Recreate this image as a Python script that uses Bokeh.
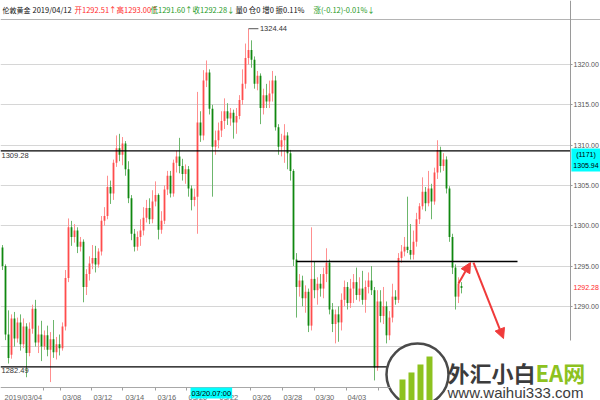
from bokeh.plotting import figure
from bokeh.models import (ColumnDataSource, Range1d, FixedTicker, Label, Arrow,
                          NormalHead, PrintfTickFormatter)
from bokeh.embed import file_html
from bokeh.resources import INLINE

# ---------------- data (London gold, 2019/03/04 - 2019/04/12) ----------------
opens = [1297.3, 1295.0, 1286.5, 1284.0, 1288.5, 1286.0, 1288.0, 1285.3, 1287.5, 1284.2,
         1287.2, 1289.7, 1285.5, 1286.5, 1285.0, 1286.4, 1284.6, 1285.9, 1284.3, 1285.3,
         1284.8, 1287.5, 1293.5, 1299.8, 1298.6, 1299.4, 1297.4, 1298.0, 1292.4, 1294.0,
         1295.3, 1296.0, 1295.2, 1296.8, 1300.6, 1301.2, 1304.8, 1304.0, 1307.8, 1309.6,
         1308.8, 1310.2, 1307.0, 1303.4, 1299.0, 1297.4, 1298.6, 1299.4, 1301.0, 1302.2,
         1300.8, 1303.0, 1303.8, 1299.5, 1300.6, 1304.5, 1306.2, 1304.0, 1307.8, 1308.6,
         1307.4, 1306.4, 1307.0, 1304.6, 1303.2, 1303.6, 1312.8, 1311.2, 1318.0, 1319.0,
         1314.5, 1309.8, 1310.6, 1311.8, 1313.0, 1314.2, 1313.3, 1314.0, 1312.8, 1313.6,
         1315.6, 1317.6, 1320.8, 1321.8, 1320.6, 1317.6, 1318.6, 1314.6, 1316.2, 1315.4,
         1316.4, 1318.0, 1312.2, 1309.8, 1310.6, 1311.2, 1309.0, 1306.8, 1295.8, 1292.4,
         1293.2, 1291.0, 1291.8, 1287.6, 1293.4, 1292.0, 1292.8, 1292.2, 1294.0, 1295.4,
         1289.6, 1287.8, 1289.0, 1288.0, 1290.8, 1292.4, 1290.4, 1292.2, 1293.0, 1291.4,
         1292.2, 1290.8, 1292.4, 1293.2, 1292.0, 1282.4, 1290.6, 1288.8, 1290.0, 1286.4,
         1288.6, 1291.2, 1290.8, 1296.0, 1296.8, 1297.4, 1297.0, 1296.4, 1298.0, 1300.8,
         1302.4, 1304.2, 1302.8, 1304.6, 1303.0, 1306.6, 1309.4, 1307.4, 1308.2, 1304.6,
         1298.6, 1294.8, 1291.2, 1292.51]
highs = [1297.6, 1295.2, 1289.5, 1289.0, 1289.3, 1288.6, 1289.0, 1288.5, 1287.9, 1288.0,
         1290.2, 1290.8, 1287.6, 1288.2, 1287.0, 1287.6, 1286.8, 1288.3, 1286.2, 1286.5,
         1288.0, 1294.5, 1300.9, 1300.6, 1300.2, 1299.8, 1298.6, 1298.3, 1294.6, 1296.2,
         1297.6, 1297.5, 1297.2, 1301.2, 1302.3, 1306.2, 1305.6, 1308.2, 1311.2, 1311.4,
         1311.0, 1310.5, 1308.0, 1303.8, 1299.6, 1299.3, 1300.8, 1302.3, 1303.2, 1303.4,
         1304.4, 1305.5, 1304.0, 1301.8, 1305.0, 1306.8, 1306.8, 1308.2, 1309.3, 1310.9,
         1308.3, 1307.6, 1307.4, 1305.0, 1304.6, 1316.6, 1314.2, 1319.3, 1320.5, 1319.4,
         1315.0, 1311.8, 1312.8, 1314.2, 1315.8, 1315.2, 1314.6, 1314.4, 1314.6, 1316.2,
         1319.4, 1322.6, 1324.44, 1323.0, 1321.0, 1319.2, 1318.9, 1317.0, 1317.6, 1318.0,
         1319.2, 1318.6, 1312.6, 1311.4, 1312.6, 1311.6, 1309.4, 1307.0, 1296.6, 1294.0,
         1293.8, 1292.6, 1292.2, 1299.8, 1295.6, 1293.6, 1294.0, 1294.8, 1297.2, 1295.8,
         1290.4, 1289.6, 1290.0, 1291.6, 1293.2, 1293.0, 1293.4, 1294.0, 1294.8, 1293.6,
         1294.4, 1293.2, 1294.2, 1295.0, 1292.4, 1292.0, 1292.0, 1292.4, 1290.6, 1289.4,
         1292.8, 1292.0, 1296.6, 1297.6, 1298.6, 1303.6, 1300.2, 1299.4, 1301.6, 1302.8,
         1306.0, 1304.8, 1306.8, 1305.2, 1307.2, 1310.6, 1309.8, 1309.0, 1308.6, 1304.9,
         1299.0, 1295.2, 1293.6, 1293.00]
lows = [1294.5, 1285.8, 1282.9, 1283.5, 1285.0, 1285.5, 1284.5, 1284.8, 1281.2, 1283.8,
        1286.6, 1285.0, 1284.2, 1283.2, 1284.6, 1283.8, 1280.6, 1283.6, 1283.4, 1283.9,
        1284.5, 1287.0, 1293.0, 1297.5, 1297.9, 1296.6, 1296.8, 1290.5, 1291.4, 1293.2,
        1294.6, 1294.2, 1294.8, 1296.3, 1300.0, 1300.8, 1302.7, 1303.2, 1307.3, 1308.0,
        1307.5, 1306.2, 1302.8, 1298.2, 1296.8, 1296.9, 1297.5, 1298.8, 1300.4, 1300.2,
        1300.3, 1302.4, 1298.3, 1299.0, 1300.2, 1303.8, 1303.5, 1303.6, 1306.6, 1306.5,
        1305.6, 1305.2, 1303.6, 1301.9, 1302.4, 1299.0, 1310.4, 1310.6, 1317.2, 1313.8,
        1303.6, 1308.8, 1309.6, 1311.0, 1312.0, 1312.5, 1312.4, 1310.8, 1311.4, 1313.2,
        1315.0, 1317.0, 1320.0, 1319.6, 1317.0, 1316.8, 1312.6, 1313.8, 1314.6, 1314.6,
        1315.4, 1311.8, 1308.8, 1308.6, 1307.8, 1307.0, 1305.6, 1295.0, 1288.6, 1291.2,
        1290.0, 1289.2, 1286.8, 1287.0, 1291.0, 1290.2, 1291.2, 1291.0, 1293.0, 1289.0,
        1286.8, 1285.4, 1285.6, 1287.0, 1290.0, 1289.6, 1289.8, 1290.4, 1290.8, 1290.6,
        1290.2, 1289.2, 1291.6, 1291.4, 1280.8, 1282.0, 1288.0, 1287.8, 1285.4, 1285.8,
        1288.0, 1290.2, 1290.4, 1295.4, 1296.2, 1296.6, 1295.8, 1295.8, 1297.4, 1300.2,
        1302.0, 1301.8, 1302.4, 1300.8, 1302.6, 1305.8, 1306.6, 1306.8, 1304.0, 1298.0,
        1294.0, 1289.6, 1290.4, 1291.60]
closes = [1295.0, 1286.5, 1283.6, 1288.5, 1286.0, 1288.0, 1285.3, 1287.5, 1284.2, 1287.2,
          1289.7, 1285.5, 1286.5, 1285.0, 1286.4, 1284.6, 1285.9, 1284.3, 1285.3, 1284.8,
          1287.5, 1293.5, 1299.8, 1298.6, 1299.4, 1297.4, 1298.0, 1292.4, 1294.0, 1295.3,
          1296.0, 1295.2, 1296.8, 1300.6, 1301.2, 1304.8, 1304.0, 1307.8, 1309.6, 1308.8,
          1310.2, 1307.0, 1303.4, 1299.0, 1297.4, 1298.6, 1299.4, 1301.0, 1302.2, 1300.8,
          1303.0, 1303.8, 1299.5, 1300.6, 1304.5, 1306.2, 1304.0, 1307.8, 1308.6, 1307.4,
          1306.4, 1307.0, 1304.6, 1303.2, 1303.6, 1312.8, 1311.2, 1318.0, 1319.0, 1314.5,
          1309.8, 1310.6, 1311.8, 1313.0, 1314.2, 1313.3, 1314.0, 1312.8, 1313.6, 1315.6,
          1317.6, 1320.8, 1321.8, 1320.6, 1317.6, 1318.6, 1314.6, 1316.2, 1315.4, 1316.4,
          1318.0, 1312.2, 1309.8, 1310.6, 1311.2, 1309.0, 1306.8, 1295.8, 1292.4, 1293.2,
          1291.0, 1291.8, 1287.6, 1293.4, 1292.0, 1292.8, 1292.2, 1294.0, 1295.4, 1289.6,
          1287.8, 1289.0, 1288.0, 1290.8, 1292.4, 1290.4, 1292.2, 1293.0, 1291.4, 1292.2,
          1290.8, 1292.4, 1293.2, 1292.0, 1282.4, 1290.6, 1288.8, 1290.0, 1286.4, 1288.6,
          1291.2, 1290.8, 1296.0, 1296.8, 1297.4, 1297.0, 1296.4, 1298.0, 1300.8, 1302.4,
          1304.2, 1302.8, 1304.6, 1303.0, 1306.6, 1309.4, 1307.4, 1308.2, 1304.6, 1298.6,
          1294.8, 1291.2, 1292.8, 1292.28]

# x-axis date labels (bar positions) and small tick marks
date_tick_pos = [6.93, 23.13, 33.47, 44.13, 54.8, 65.13, 75.47, 86.47, 96.8, 107.47, 118.13]
date_tick_labels = ["2019/03/04", "03/08", "03/12", "03/14", "03/16", "03/20", "03/22",
                    "03/26", "03/28", "03/30", "04/03"]
date_minor_pos = [13.67, 19.33, 29.67, 40.0, 51.0, 61.33, 72.0, 82.67, 93.33, 104.0, 114.67, 125.33]
price_ticks = [1290, 1295, 1300, 1305, 1310, 1315, 1320]
grid_levels = [1285, 1290, 1295, 1300, 1305, 1310, 1315, 1320]

# horizontal support / resistance lines: level, start bar, end bar
hline_level = [1309.28, 1295.56, 1282.49]
hline_start = [-0.67, 98.0, -0.67]
hline_end = [189.33, 171.67, 189.33]

high_mark_bar, high_mark_price = 82.0, 1324.44
last_close = 1292.28
cross_bar, cross_price, cross_count = 62.67, 1305.94, 1171

# red hand-drawn arrows (bar, price)
arrow_x0 = [152.0, 157.0]
arrow_y0 = [1292.83, 1295.43]
arrow_x1 = [156.0, 167.0]
arrow_y1 = [1295.43, 1286.0]

# watermark geometry (bar, price)
wm_circle = (138.33, 1281.54)
wm_bar_left = [132.33, 135.33, 138.33, 141.33]
wm_bar_right = [134.33, 137.33, 140.33, 143.33]
wm_bar_top = [1280.92, 1281.79, 1282.78, 1283.77]


# ---------------- geometry helpers (pixel -> data, for annotations only) ----------------
def bx(xp):
    return (xp - 2) / 3.0


def py(yp):
    return 1320.0 - (yp - 64) / 8.06


X0, X1 = bx(0), bx(600)
Y0, Y1 = py(400), py(0)
AXIS_X = bx(570)
AXIS_Y = py(387)
SCALE_FONT = "7px"

p = figure(width=600, height=400, output_backend="svg", toolbar_location=None,
           x_range=Range1d(X0, X1), y_range=Range1d(Y0, Y1),
           y_axis_location="right",
           min_border=0, min_border_left=0, min_border_right=0, min_border_top=0,
           min_border_bottom=0,
           background_fill_color="white", border_fill_color="white")
p.styles = {"position": "absolute", "left": "0px", "top": "0px"}
p.outline_line_color = None

# axes (drawn at fixed positions inside the canvas)
p.yaxis.fixed_location = AXIS_X
p.yaxis.bounds = (py(340), Y1)
p.yaxis.ticker = FixedTicker(ticks=price_ticks)
p.yaxis.formatter = PrintfTickFormatter(format="%.2f")
p.yaxis.axis_line_color = "#9a9a9a"
p.yaxis.major_tick_line_color = "#9a9a9a"
p.yaxis.major_tick_out = 2
p.yaxis.major_tick_in = 0
p.yaxis.minor_tick_line_color = None
p.yaxis.major_label_standoff = 1
p.yaxis.major_label_text_font = "Liberation Sans"
p.yaxis.major_label_text_font_size = SCALE_FONT
p.yaxis.major_label_text_color = "#555555"

p.xaxis.fixed_location = AXIS_Y
p.xaxis.bounds = (X0, bx(390))
p.xaxis.ticker = FixedTicker(ticks=date_tick_pos, minor_ticks=date_minor_pos)
p.xaxis.major_label_overrides = {k: v for k, v in zip(date_tick_pos, date_tick_labels)}
p.xaxis.axis_line_color = "#a8a8a8"
p.xaxis.major_tick_line_color = None
p.xaxis.major_tick_out = 0
p.xaxis.major_tick_in = 0
p.xaxis.minor_tick_line_color = "#a0a0a0"
p.xaxis.minor_tick_out = 3
p.xaxis.minor_tick_in = 0
p.xaxis.major_label_standoff = 2
p.xaxis.major_label_text_font = "Liberation Sans"
p.xaxis.major_label_text_font_size = "7.5px"
p.xaxis.major_label_text_color = "#666666"

p.xgrid.visible = False
p.ygrid.ticker = FixedTicker(ticks=grid_levels)
p.ygrid.grid_line_color = "#d6d6d6"
p.ygrid.grid_line_width = 1

# blank strip for the price scale (grid stops at the axis)
p.quad(left=[AXIS_X], right=[X1], top=[Y1], bottom=[Y0], fill_color="white", line_color=None)

# header separator line
p.segment(x0=[X0], y0=[py(19)], x1=[X1], y1=[py(19)], line_color="#b4b4b4", line_width=1)

# candles
n = len(closes)
up = [c >= o for o, c in zip(opens, closes)]
src = ColumnDataSource(dict(
    x=list(range(n)), o=opens, h=highs, l=lows, c=closes,
    top=[max(o, c) for o, c in zip(opens, closes)],
    bot=[min(o, c) for o, c in zip(opens, closes)],
    body=["#ff4d4d" if u else "#0f880f" for u in up],
    wick=["#ff8f8f" if u else "#6cb66c" for u in up],
))
p.segment(x0="x", y0="l", x1="x", y1="h", source=src, line_color="wick", line_width=1)
p.vbar(x="x", top="top", bottom="bot", width=0.6, source=src,
       fill_color="body", line_color=None)

# horizontal lines
p.segment(x0=hline_start, y0=hline_level, x1=hline_end, y1=hline_level,
          line_color="black", line_width=1.4)

# high marker
p.segment(x0=[high_mark_bar], y0=[high_mark_price], x1=[high_mark_bar + 3.3],
          y1=[high_mark_price], line_color="#555555", line_width=1)

# watermark
p.quad(left=[wm_circle[0]], right=[X1], top=[py(340)], bottom=[Y0],
       fill_color="white", line_color=None)
p.scatter(x=[wm_circle[0]], y=[wm_circle[1]], size=62, marker="circle",
          fill_color="white", line_color="#4a4a4a", line_width=2.5)
p.quad(left=wm_bar_left, right=wm_bar_right, top=wm_bar_top, bottom=[Y0] * 4,
       fill_color="#8dc21f", line_color=None)

# ---------------- text annotations ----------------
HFONT = "Noto Sans CJK SC"
header = [
    (2, "伦敦黄金", "#111111", "7px"),
    (32, "2019/04/12", "#111111", "7.5px"),
    (74, "开1292.51↑高1293.00↑", "#ff2a2a", "7.5px"),
    (150, "低1291.60↑收1292.28↓", "#1f9a1f", "7.5px"),
    (235, "量0  仓0  增0  振0.11%", "#111111", "7.5px"),
    (313, "涨(-0.12)-0.01%↓", "#1f9a1f", "7.5px"),
]
for xp, t, col, fs in header:
    p.add_layout(Label(x=bx(xp), y=py(9), text=t, text_font=HFONT, text_font_size=fs,
                       text_color=col, text_baseline="middle", text_align="left"))

p.add_layout(Label(x=bx(1), y=hline_level[0], y_offset=-2, text="1309.28",
                   text_font="Liberation Sans", text_font_size="7.5px", text_color="#333333",
                   text_baseline="top"))
p.add_layout(Label(x=bx(1), y=hline_level[2], y_offset=-1, text="1282.49",
                   text_font="Liberation Sans", text_font_size="7.5px", text_color="#333333",
                   text_baseline="top"))
p.add_layout(Label(x=high_mark_bar + 3.8, y=high_mark_price, text="1324.44",
                   text_font="Liberation Sans", text_font_size="7.5px", text_color="#333333",
                   text_baseline="middle"))
p.add_layout(Label(x=bx(573), y=last_close, text="%.2f" % last_close,
                   text_font="Liberation Sans", text_font_size=SCALE_FONT, text_color="#ff2a2a",
                   text_baseline="middle"))
p.add_layout(Label(x=bx(585.5), y=py(159.5), text="(%d)\n%.2f" % (cross_count, cross_price),
                   text_font="Liberation Sans", text_font_size=SCALE_FONT, text_color="#000000",
                   text_baseline="middle", text_align="center", text_line_height=1.7,
                   background_fill_color="#00ffff", padding=2))
p.add_layout(Label(x=cross_bar, y=py(392.5), text="03/20.07:00",
                   text_font="Liberation Sans", text_font_size="7.5px", text_color="#000000",
                   text_baseline="middle", background_fill_color="#00ffff", padding=1))

# red arrows
for a0, b0, a1, b1 in zip(arrow_x0, arrow_y0, arrow_x1, arrow_y1):
    p.add_layout(Arrow(x_start=a0, y_start=b0, x_end=a1, y_end=b1, line_color="#f03a3a",
                       line_width=2, end=NormalHead(size=10, fill_color="#f03a3a",
                                                    line_color="#f03a3a")))

# watermark text
p.add_layout(Label(x=bx(447), y=py(371), text="外汇小白", text_font=HFONT,
                   text_font_style="bold", text_font_size="22px", text_color="#3c3c3c",
                   text_baseline="middle"))
p.add_layout(Label(x=bx(535), y=py(371), text="EA网", text_font=HFONT,
                   text_font_style="bold", text_font_size="22px", text_color="#8dc21f",
                   text_baseline="middle"))
p.add_layout(Label(x=bx(447), y=py(391.5), text="www.waihui333.com",
                   text_font="Liberation Sans", text_font_size="15px", text_color="#3c3c3c",
                   text_baseline="middle"))

open("out.html", "w").write(file_html(p, INLINE))
